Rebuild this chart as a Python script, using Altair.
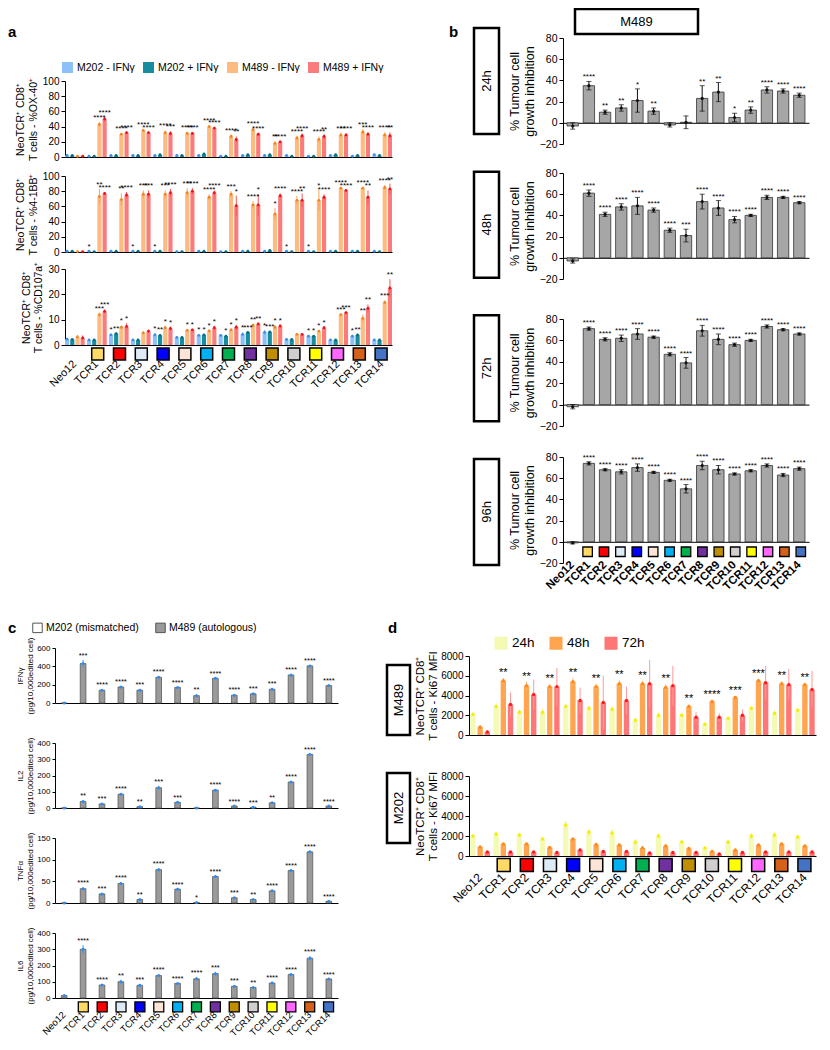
import altair as alt
import pandas as pd

FONT = "Liberation Sans"
W, H = 814, 1034

GROUPS = ["Neo12", "TCR1", "TCR2", "TCR3", "TCR4", "TCR5", "TCR6", "TCR7",
          "TCR8", "TCR9", "TCR10", "TCR11", "TCR12", "TCR13", "TCR14"]
TCRS = GROUPS[1:]
TCR_COLORS = ["#FFD966", "#FF0000", "#DDEBF7", "#0000FF", "#FCE4D6", "#00B0F0", "#00B050",
              "#7030A0", "#BF8F00", "#D0CECE", "#FFFF00", "#FF66FF", "#D4601A", "#4472C4"]
NO_STARS = ["", "", "", "", "", "", "", "", "", "", "", "", "", "", ""]

# ---------------- panel a ----------------
A_SERIES = ["M202 - IFNγ", "M202 + IFNγ", "M489 - IFNγ", "M489 + IFNγ"]
A_BAR = ["#8CC0F7", "#168C9E", "#FDBB7E", "#F97B7B"]
A_ERR = ["#6AAAF0", "#0E7A8C", "#F9A35A", "#F65A5A"]
A_PT = ["#3A8EE6", "#0B6F80", "#F5841F", "#E8141B"]

OX40_MEAN = [
    [2, 1, 2, 2, 2, 2, 2, 1, 2, 2, 2, 1, 2, 1, 3],
    [2, 1, 2, 2, 3, 2, 4, 1, 3, 3, 1, 1, 3, 2, 2],
    [1, 43, 30, 35, 32, 31, 40, 27, 36, 18, 25, 23, 29, 33, 29],
    [1, 50, 32, 32, 31, 31, 38, 23, 30, 20, 28, 27, 29, 30, 28],
]
OX40_SD = [
    [0.6, 0.5, 0.6, 0.5, 0.6, 0.5, 0.6, 0.4, 0.5, 0.6, 0.5, 0.4, 0.5, 0.4, 0.8],
    [0.5, 0.4, 0.6, 0.5, 0.8, 0.5, 1.0, 0.4, 0.8, 0.8, 0.4, 0.4, 0.8, 0.6, 0.5],
    [0.3, 3.0, 1.5, 2.0, 3.0, 2.5, 1.5, 2.5, 2.5, 3.0, 3.0, 4.0, 3.0, 3.5, 3.5],
    [0.3, 3.0, 1.5, 1.5, 3.0, 2.0, 1.5, 4.0, 2.0, 1.5, 3.0, 3.5, 2.0, 2.5, 4.5],
]
OX40_STARS = [
    NO_STARS,
    NO_STARS,
    ["", "****", "****", "****", "****", "****", "****", "****", "****", "**", "****", "****", "***", "***", "****"],
    ["", "****", "****", "****", "***", "****", "****", "**", "****", "****", "****", "**", "****", "****", "**"],
]

BB_MEAN = [
    [1, 1, 1, 1, 1, 0.5, 1, 0.5, 1, 1, 1, 1, 1, 1, 1],
    [1, 0.5, 1, 1, 1, 0.5, 1, 0.5, 1, 2, 0.5, 0.5, 1, 1, 0.5],
    [0.5, 73, 69, 76, 76, 78, 72, 76, 62, 50, 68, 68, 84, 84, 85],
    [0.5, 77, 75, 76, 78, 80, 78, 61, 62, 74, 68, 72, 81, 72, 83],
]
BB_SD = [
    [0.5, 0.4, 0.4, 0.5, 0.5, 0.3, 0.4, 0.3, 0.4, 0.4, 0.5, 0.5, 0.4, 0.4, 0.5],
    [0.4, 0.3, 0.4, 0.4, 0.5, 0.3, 0.4, 0.3, 0.4, 0.5, 0.3, 0.3, 0.4, 0.4, 0.3],
    [0.3, 10, 8, 5, 5, 6, 4, 4, 5, 8, 6, 14, 1, 1, 3],
    [0.3, 2, 4, 5, 5, 4, 3, 13, 14, 3, 9, 4, 1, 9, 7],
]
BB_STARS = [
    ["", "*", "", "*", "*", "", "", "", "", "", "*", "*", "", "", ""],
    NO_STARS,
    ["", "**", "**", "***", "***", "***", "****", "***", "****", "*", "****", "*", "****", "****", "****"],
    ["", "****", "****", "***", "****", "****", "****", "*", "*", "****", "**", "****", "****", "**", "**"],
]

CD_MEAN = [
    [2.3, 2.0, 4.0, 2.0, 4.0, 3.0, 3.8, 3.8, 4.2, 5.0, 2.2, 3.5, 2.0, 3.5, 2.0],
    [2.2, 2.0, 4.5, 2.0, 3.8, 3.0, 4.0, 3.5, 5.0, 5.2, 2.2, 3.5, 2.0, 4.0, 2.0],
    [3.2, 12.0, 7.0, 4.8, 6.8, 5.8, 5.6, 6.0, 7.8, 7.0, 4.2, 5.5, 12.0, 10.5, 16.8],
    [2.8, 13.3, 7.3, 5.5, 6.5, 6.0, 6.8, 7.0, 8.3, 7.5, 4.2, 6.8, 12.8, 14.5, 22.5],
]
CD_SD = [
    [0.3, 0.3, 0.5, 0.3, 0.6, 0.3, 0.5, 0.5, 0.8, 0.9, 0.3, 0.5, 0.3, 0.5, 0.3],
    [0.3, 0.3, 0.4, 0.3, 0.4, 0.3, 0.4, 0.4, 0.3, 0.3, 0.3, 0.4, 0.3, 0.4, 0.3],
    [0.8, 0.8, 0.7, 0.7, 0.8, 0.4, 0.5, 0.5, 0.6, 0.8, 0.3, 0.3, 0.4, 1.5, 0.8],
    [1.0, 0.8, 1.3, 0.6, 0.8, 0.4, 0.8, 1.0, 0.5, 0.5, 0.3, 0.4, 0.3, 1.5, 3.5],
]
CD_STARS = [
    ["", "", "*", "", "*", "", "*", "", "*", "*", "", "*", "", "*", ""],
    ["", "", "**", "", "**", "", "*", "*", "***", "***", "", "*", "", "**", ""],
    ["", "***", "*", "", "*", "*", "*", "*", "**", "*", "", "*", "***", "**", "***"],
    ["", "***", "*", "", "*", "*", "*", "*", "**", "*", "", "*", "***", "**", "**"],
]

# ---------------- panel b ----------------
B_TIMES = ["24h", "48h", "72h", "96h"]
B24_MEAN = [-3, 35, 10, 14, 21, 11, -2, 0.5, 23, 29, 5, 12, 31, 30, 26]
B24_SD = [3, 4, 2, 3, 11, 3, 2, 6, 12, 9, 4, 3, 3, 2, 2]
B24_STARS = ["", "****", "**", "**", "*", "**", "", "", "**", "**", "*", "**", "****", "****", "****"]
B48_MEAN = [-3, 61, 41, 48, 49, 45, 26, 21, 53, 47, 36, 40, 57, 57, 52]
B48_SD = [2, 3, 2, 3, 8, 2, 2, 6, 7, 7, 3, 1, 2, 1, 1]
B48_STARS = ["", "****", "****", "****", "****", "****", "****", "***", "****", "****", "****", "****", "****", "****", "****"]
B72_MEAN = [-2, 71, 61, 62, 66, 63, 47, 39, 69, 61, 56, 60, 73, 70, 66]
B72_SD = [2, 1.5, 1.5, 3, 5, 1, 1.5, 5, 5, 5, 1.5, 1, 1.5, 1, 1]
B72_STARS = ["", "****", "****", "****", "****", "****", "****", "****", "****", "****", "****", "****", "****", "****", "****"]
B96_MEAN = [-1, 74, 68, 66, 70, 65.5, 58, 50, 72, 68, 64, 67, 72, 63, 69]
B96_SD = [1, 1.5, 1, 2, 3.5, 1, 1, 4, 4, 4, 1, 1, 1.5, 1.5, 1.5]
B96_STARS = ["", "****", "****", "****", "****", "****", "****", "****", "****", "****", "****", "****", "****", "****", "****"]

# ---------------- panel c ----------------
C_SERIES = ["M202 (mismatched)", "M489 (autologous)"]
C_IFN_MEAN = [0, 430, 140, 175, 140, 280, 170, 80, 270, 85, 100, 150, 305, 405, 190]
C_IFN_SD = [0, 40, 8, 10, 12, 12, 10, 15, 8, 8, 8, 15, 8, 10, 8]
C_IFN_STARS = ["", "***", "****", "****", "***", "****", "****", "**", "****", "****", "***", "***", "****", "****", "****"]
C_IL2_MEAN = [0, 40, 25, 85, 8, 125, 35, 0, 110, 12, 5, 32, 160, 330, 12]
C_IL2_SD = [0, 8, 5, 6, 3, 12, 5, 0, 4, 2, 2, 5, 4, 5, 2]
C_IL2_STARS = ["", "**", "***", "****", "**", "***", "***", "", "****", "****", "***", "**", "****", "****", "****"]
C_TNF_MEAN = [0, 33, 21, 45, 8, 77, 32, 1, 61, 12, 8, 28, 75, 118, 4]
C_TNF_SD = [0, 3, 2, 3, 1, 4, 1, 0.5, 2, 1, 1, 1, 2, 3, 1]
C_TNF_STARS = ["", "****", "***", "****", "**", "****", "****", "*", "****", "***", "**", "****", "****", "****", "****"]
C_IL6_MEAN = [15, 300, 80, 100, 78, 138, 90, 118, 150, 72, 65, 92, 145, 245, 117]
C_IL6_SD = [3, 25, 5, 12, 6, 7, 4, 10, 12, 5, 5, 8, 4, 12, 3]
C_IL6_STARS = ["", "****", "****", "**", "***", "****", "****", "****", "***", "***", "**", "****", "****", "****", "****"]

# ---------------- panel d ----------------
D_SERIES = ["24h", "48h", "72h"]
D_BAR = ["#F4F9B4", "#FFA54F", "#FF7676"]
D_ERR = ["#EEF28A", "#FFB874", "#FF9A9A"]
D_PT = ["#F2F000", "#FF8A1A", "#FF1A1A"]
D489_MEAN = [
    [2100, 2900, 2300, 2300, 2900, 2700, 2600, 1500, 2000, 2000, 1100, 1700, 2700, 2200, 2500],
    [800, 5500, 5000, 4900, 5400, 4900, 5200, 5200, 4800, 2900, 3400, 3800, 5500, 5200, 5100],
    [300, 3100, 4100, 4900, 3500, 3300, 3500, 5200, 5000, 1800, 1800, 2000, 5300, 5100, 4600],
]
D489_SD = [
    [150, 350, 300, 350, 300, 250, 350, 250, 300, 200, 150, 100, 150, 300, 250],
    [100, 300, 400, 250, 400, 300, 350, 300, 350, 200, 100, 150, 200, 250, 200],
    [200, 1200, 1500, 1900, 1300, 2700, 1400, 2400, 2000, 500, 400, 600, 1700, 1600, 1900],
]
D489_STARS = [
    NO_STARS,
    ["", "**", "**", "**", "**", "**", "**", "**", "**", "**", "****", "***", "***", "**", "**"],
    NO_STARS,
]
D202_MEAN = [
    [2000, 2200, 2100, 1700, 3100, 2400, 2300, 1400, 2000, 1400, 800, 1400, 2000, 2100, 1900],
    [900, 1200, 1200, 850, 1700, 1150, 1100, 800, 1000, 750, 450, 600, 1100, 1200, 1000],
    [400, 400, 400, 350, 600, 450, 450, 300, 350, 350, 200, 350, 400, 400, 400],
]
D202_SD = [
    [200, 250, 200, 200, 400, 350, 350, 300, 300, 150, 150, 200, 300, 300, 250],
    [100, 100, 100, 150, 100, 100, 150, 200, 200, 100, 100, 100, 150, 150, 100],
    [100, 100, 100, 100, 150, 100, 100, 100, 100, 150, 80, 100, 100, 100, 150],
]


# ---------------- helpers ----------------
def px(v):
    return v - 8


def zero_y(ycfg):
    (yb, yt), (d0, d1) = ycfg["yr"], ycfg["dom"]
    return yb + (0 - d0) / (d1 - d0) * (yt - yb)


def xenc(xcfg, zero=None, labels=False, pad=0, size=11, bold=False):
    xr, pi, po = xcfg
    scale = alt.Scale(domain=GROUPS, range=[px(xr[0]), px(xr[1])], paddingInner=pi, paddingOuter=po)
    if zero is None:
        return alt.X("group:N", scale=scale, axis=None)
    kw = dict(orient="bottom", offset=px(zero) - H, domain=True, domainColor="black",
              domainWidth=1, ticks=False, grid=False, title=None, labels=labels)
    if labels:
        kw.update(labelAngle=-45, labelAlign="right", labelBaseline="middle", labelPadding=pad,
                  labelFontSize=size, labelFont=FONT, labelColor="black",
                  labelFontWeight="bold" if bold else "normal", labelOverlap=False, labelBound=False)
    return alt.X("group:N", scale=scale, axis=alt.Axis(**kw))


def yscale(ycfg):
    return alt.Scale(domain=list(ycfg["dom"]), range=[px(ycfg["yr"][0]), px(ycfg["yr"][1])], nice=False)


def yenc(field, ycfg):
    ax = alt.Axis(orient="left", offset=-px(ycfg["ax"]), values=ycfg["vals"], tickSize=ycfg.get("ts", 4),
                  tickColor="black", tickWidth=1, domainColor="black", domainWidth=1, format="d",
                  labelFontSize=ycfg["lfs"], labelFont=FONT, labelColor="black", labelPadding=2,
                  title=ycfg["title"], titleFont=FONT, titleFontSize=ycfg["tfs"], titleFontWeight="normal",
                  titleColor="black", titlePadding=ycfg["tpad"], titleLineHeight=ycfg["tfs"] + 2, grid=False)
    return alt.Y(f"{field}:Q", scale=yscale(ycfg), axis=ax)


def grouped_df(series, means, sds, stars):
    rows = []
    for si, s in enumerate(series):
        for gi, g in enumerate(GROUPS):
            m, sd = means[si][gi], sds[si][gi]
            rows.append({"group": g, "series": s, "mean": m, "lo": m - sd, "hi": m + sd,
                         "star": stars[si][gi]})
    return pd.DataFrame(rows)


def single_df(series, means, sds, stars):
    return grouped_df([series], [means], [sds], [stars])


def grouped_panel(df, series, bar_cols, err_cols, pt_cols, xcfg, ycfg, xaxis, legend,
                  star_size, pt_size, xoff_pi):
    X = xenc(xcfg, **xaxis)
    XO = alt.XOffset("series:N", scale=alt.Scale(domain=series, paddingInner=xoff_pi))
    base = alt.Chart(df)
    bars = base.mark_bar().encode(
        x=X, xOffset=XO, y=yenc("mean", ycfg),
        fill=alt.Fill("series:N", scale=alt.Scale(domain=series, range=bar_cols), legend=legend))
    err = base.mark_rule(strokeWidth=1).encode(
        x=X, xOffset=XO, y=yenc("lo", ycfg), y2="hi:Q",
        stroke=alt.Stroke("series:N", scale=alt.Scale(domain=series, range=err_cols), legend=None))
    pts = base.mark_circle(size=pt_size, opacity=1).encode(
        x=X, xOffset=XO, y=yenc("mean", ycfg),
        color=alt.Color("series:N", scale=alt.Scale(domain=series, range=pt_cols), legend=None))
    stars = base.mark_text(baseline="bottom", dy=0, fontSize=star_size, font=FONT, color="black").encode(
        x=X, xOffset=XO, y=yenc("hi", ycfg), text="star:N")
    return alt.layer(bars, err, pts, stars)


def single_panel(df, xcfg, ycfg, xaxis, bar_kw, fill_enc, err_col, pt_col, pt_size, star_size, cap):
    X = xenc(xcfg, **xaxis)
    base = alt.Chart(df)
    enc = dict(x=X, y=yenc("mean", ycfg))
    if fill_enc is not None:
        enc["fill"] = fill_enc
    bars = base.mark_bar(**bar_kw).encode(**enc)
    err = base.mark_rule(strokeWidth=1, color=err_col).encode(x=X, y=yenc("lo", ycfg), y2="hi:Q")
    layers = [bars, err]
    if cap:
        layers.append(base.mark_tick(thickness=1, size=cap, color=err_col).encode(x=X, y=yenc("lo", ycfg)))
        layers.append(base.mark_tick(thickness=1, size=cap, color=err_col).encode(x=X, y=yenc("hi", ycfg)))
    layers.append(base.mark_circle(size=pt_size, opacity=1, color=pt_col).encode(x=X, y=yenc("mean", ycfg)))
    layers.append(base.mark_text(baseline="bottom", dy=0, fontSize=star_size, font=FONT, color="black").encode(
        x=X, y=yenc("hi", ycfg), text="star:N"))
    return alt.layer(*layers)


def squares(xcfg, ycfg, ydatum, size, sw=1.5):
    df = pd.DataFrame({"group": TCRS})
    return alt.Chart(df).mark_square(size=size, stroke="black", strokeWidth=sw, opacity=1).encode(
        x=xenc(xcfg),
        y=alt.YDatum(ydatum, type="quantitative", scale=yscale(ycfg), axis=None),
        fill=alt.Fill("group:N", scale=alt.Scale(domain=TCRS, range=TCR_COLORS), legend=None))


def boxes(labels, xr, yr, pad, fs, angle):
    df = pd.DataFrame({"label": labels, "k": ["k" for _ in labels]})
    xs = alt.X("k:N", scale=alt.Scale(range=[px(xr[0]), px(xr[1])], paddingInner=0, paddingOuter=0), axis=None)
    ys = alt.Y("label:N", scale=alt.Scale(domain=labels, range=[px(yr[0]), px(yr[1])],
                                          paddingInner=pad, paddingOuter=0), axis=None)
    rect = alt.Chart(df).mark_rect(fill="white", stroke="black", strokeWidth=2.5).encode(x=xs, y=ys)
    txt = alt.Chart(df).mark_text(angle=angle, fontSize=fs, font=FONT, color="black").encode(
        x=xs, y=ys, text="label:N")
    return alt.layer(rect, txt)


def letter(t, x, y):
    return alt.Chart(pd.DataFrame({"t": [t]})).mark_text(
        fontSize=15, fontWeight="bold", font=FONT, align="left", baseline="middle", color="black").encode(
        text="t:N", x=alt.value(px(x)), y=alt.value(px(y)))


layers = []

# ---------------- build a ----------------
XA = ((65, 392), 0.1, 0.0)
A_TITLE1 = "NeoTCR⁺ CD8⁺"
ya = dict(ax=65, lfs=10, tfs=10.5, tpad=4)
Y_OX = dict(ya, yr=(157, 81), dom=(0, 100), vals=[0, 20, 40, 60, 80, 100], title=[A_TITLE1, "T cells - %OX-40⁺"])
Y_BB = dict(ya, yr=(252, 176), dom=(0, 100), vals=[0, 20, 40, 60, 80, 100], title=[A_TITLE1, "T cells - %4-1BB⁺"])
Y_CD = dict(ya, yr=(345, 269), dom=(0, 30), vals=[0, 10, 20, 30], title=[A_TITLE1, "T cells - %CD107a⁺"])
a_legend = alt.Legend(orient="none", legendX=px(62), legendY=px(62), direction="horizontal", title=None,
                      symbolType="square", symbolSize=120, symbolStrokeWidth=0, labelFontSize=10.5,
                      labelFont=FONT, labelColor="black", columnPadding=8, labelOffset=4, padding=0)
layers.append(grouped_panel(grouped_df(A_SERIES, OX40_MEAN, OX40_SD, OX40_STARS), A_SERIES, A_BAR, A_ERR, A_PT,
                            XA, Y_OX, dict(zero=zero_y(Y_OX)), a_legend, 8, 8, 0.2))
layers.append(grouped_panel(grouped_df(A_SERIES, BB_MEAN, BB_SD, BB_STARS), A_SERIES, A_BAR, A_ERR, A_PT,
                            XA, Y_BB, dict(zero=zero_y(Y_BB)), None, 8, 8, 0.2))
layers.append(grouped_panel(grouped_df(A_SERIES, CD_MEAN, CD_SD, CD_STARS), A_SERIES, A_BAR, A_ERR, A_PT,
                            XA, Y_CD, dict(zero=zero_y(Y_CD), labels=True, pad=17, size=11), None, 8, 8, 0.2))
layers.append(squares(XA, Y_CD, -3.55, 144))

# ---------------- build b ----------------
XB = ((563, 809), 0.3, 0.25)
yb = dict(ax=563, lfs=10.5, tfs=12.5, tpad=3, vals=[-20, 0, 20, 40, 60, 80], dom=(-20, 80),
          title=["% Tumour cell", "growth inhibition"])
B_CFG = [
    (dict(yb, yr=(144, 38)), B24_MEAN, B24_SD, B24_STARS),
    (dict(yb, yr=(279, 173)), B48_MEAN, B48_SD, B48_STARS),
    (dict(yb, yr=(426, 319)), B72_MEAN, B72_SD, B72_STARS),
    (dict(yb, yr=(563, 457)), B96_MEAN, B96_SD, B96_STARS),
]
for i, (ycfg, m, s, st) in enumerate(B_CFG):
    xa = dict(zero=zero_y(ycfg))
    if i == 3:
        xa.update(labels=True, pad=21, size=11.5, bold=True)
    layers.append(single_panel(single_df("M489", m, s, st), XB, ycfg, xa,
                               dict(fill="#A6A6A6", stroke="#333333", strokeWidth=0.8), None,
                               "#111111", "#111111", 10, 8, 5))
layers.append(squares(XB, B_CFG[3][0], -9.4, 90, 1.3))
layers.append(boxes(B_TIMES, (474, 499), (28, 565), 0.262, 13, 270))
layers.append(boxes(["M489"], (575, 698), (9, 34), 0, 13, 0))

# ---------------- build c ----------------
XC = ((55, 338), 0.7, 0.335)
yc = dict(ax=55, lfs=8, tfs=8, tpad=2, ts=3)
Y_IFN = dict(yc, yr=(703, 648), dom=(0, 600), vals=[0, 200, 400, 600], title=["IFNγ", "(pg/10,000edited cell)"])
Y_IL2 = dict(yc, yr=(808, 743), dom=(0, 400), vals=[0, 100, 200, 300, 400], title=["IL2", "(pg/10,000edited cell)"])
Y_TNF = dict(yc, yr=(903, 838), dom=(0, 150), vals=[0, 50, 100, 150], title=["TNFα", "(pg/10,000edited cell)"])
Y_IL6 = dict(yc, yr=(998, 933), dom=(0, 400), vals=[0, 100, 200, 300, 400], title=["IL6", "(pg/10,000edited cell)"])
c_legend = alt.Legend(orient="none", legendX=px(32), legendY=px(622), direction="horizontal", title=None,
                      symbolType="square", symbolSize=90, symbolStrokeColor="#555555", symbolStrokeWidth=1,
                      labelFontSize=10.5, labelFont=FONT, labelColor="black", columnPadding=14,
                      labelOffset=3, padding=0)
C_CFG = [(Y_IFN, C_IFN_MEAN, C_IFN_SD, C_IFN_STARS), (Y_IL2, C_IL2_MEAN, C_IL2_SD, C_IL2_STARS),
         (Y_TNF, C_TNF_MEAN, C_TNF_SD, C_TNF_STARS), (Y_IL6, C_IL6_MEAN, C_IL6_SD, C_IL6_STARS)]
for i, (ycfg, m, s, st) in enumerate(C_CFG):
    xa = dict(zero=zero_y(ycfg))
    if i == 3:
        xa.update(labels=True, pad=15, size=9.5)
    fill = alt.Fill("series:N", scale=alt.Scale(domain=C_SERIES, range=["#FFFFFF", "#9A9A9A"]),
                    legend=c_legend if i == 0 else None)
    layers.append(single_panel(single_df(C_SERIES[1], m, s, st), XC, ycfg, xa,
                               dict(stroke="#5A5A5A", strokeWidth=0.8), fill,
                               "#3A93F0", "#2E8BEF", 9, 7.5, 0))
layers.append(squares(XC, Y_IL6, -55, 100, 1.3))

# ---------------- build d ----------------
XD = ((469, 816), 0.15, 0.055)
yd = dict(ax=469, lfs=10, tfs=11.5, tpad=2, dom=(0, 8000), vals=[0, 2000, 4000, 6000, 8000],
          title=["NeoTCR⁺ CD8⁺", "T cells - Ki67 MFI"])
Y_D489 = dict(yd, yr=(735, 656))
Y_D202 = dict(yd, yr=(856, 776))
d_legend = alt.Legend(orient="none", legendX=px(494), legendY=px(636), direction="horizontal", title=None,
                      symbolType="square", symbolSize=170, symbolStrokeWidth=0, labelFontSize=13.5,
                      labelFont=FONT, labelColor="black", columnPadding=14, labelOffset=4, padding=0)
layers.append(grouped_panel(grouped_df(D_SERIES, D489_MEAN, D489_SD, D489_STARS), D_SERIES, D_BAR, D_ERR, D_PT,
                            XD, Y_D489, dict(zero=zero_y(Y_D489)), d_legend, 11, 12, 0.25))
layers.append(grouped_panel(grouped_df(D_SERIES, D202_MEAN, D202_SD, [NO_STARS, NO_STARS, NO_STARS]),
                            D_SERIES, D_BAR, D_ERR, D_PT, XD, Y_D202,
                            dict(zero=zero_y(Y_D202), labels=True, pad=19, size=12), None, 11, 12, 0.25))
layers.append(squares(XD, Y_D202, -900, 169))
layers.append(boxes(["M489", "M202"], (387, 410), (665, 843), 0.35, 13, 270))

# ---------------- panel letters ----------------
layers.append(letter("a", 8, 32))
layers.append(letter("b", 449, 32))
layers.append(letter("c", 8, 628))
layers.append(letter("d", 388, 628))

chart = (
    alt.layer(*layers)
    .resolve_scale(x="independent", y="independent", xOffset="independent", fill="independent",
                   stroke="independent", color="independent")
    .resolve_axis(x="independent", y="independent")
    .resolve_legend(fill="independent", stroke="independent", color="independent")
    .properties(width=W, height=H, autosize=alt.AutoSizeParams(type="none"), padding=0)
    .configure(font=FONT)
    .configure_view(strokeWidth=0)
)

chart.save("out.html", embed_options={"renderer": "svg", "actions": False})
